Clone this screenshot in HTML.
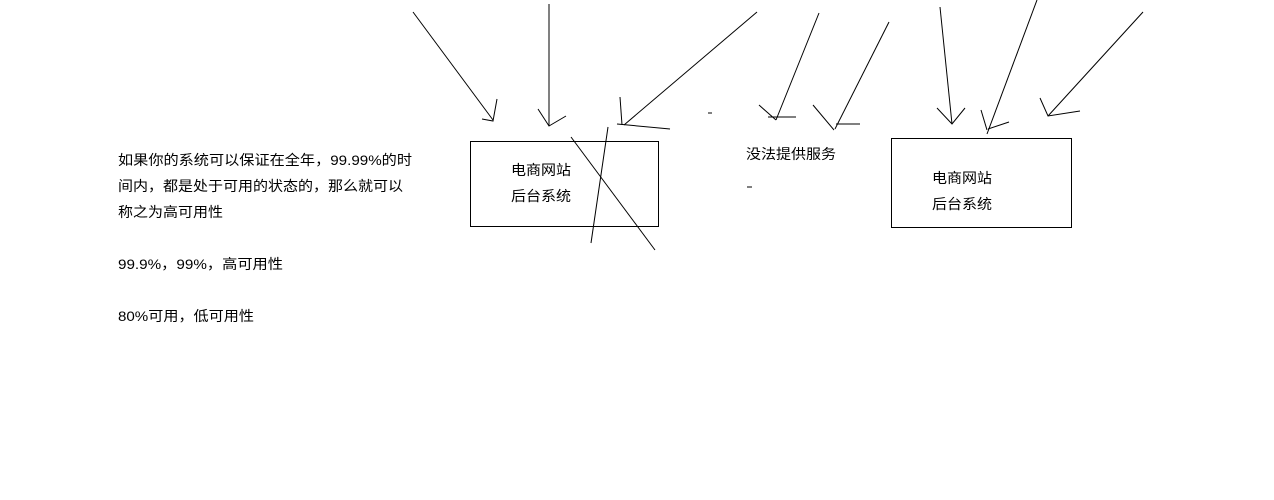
<!DOCTYPE html>
<html><head><meta charset="utf-8"><style>
html,body{margin:0;padding:0;background:#fff;}
svg{display:block;}
text{font-family:"Liberation Sans","Noto Sans CJK SC",sans-serif;font-size:14px;fill:#000;}
</style></head><body>
<svg width="1274" height="500" viewBox="0 0 1274 500" xmlns="http://www.w3.org/2000/svg">
<g stroke="#000" stroke-width="1" fill="none">
<rect x="470.5" y="141.5" width="188" height="85"/>
<rect x="891.5" y="138.5" width="180" height="89"/>
<line x1="413" y1="12" x2="493" y2="120"/>
<polyline points="497,99 493,121 482,119"/>
<line x1="549" y1="4" x2="549" y2="126"/>
<polyline points="538,109 549,126 566,116"/>
<line x1="757" y1="12" x2="624" y2="125"/>
<line x1="620" y1="97" x2="622" y2="125"/>
<line x1="617" y1="124" x2="670" y2="129"/>
<line x1="571" y1="137" x2="655" y2="250"/>
<line x1="608" y1="127" x2="591" y2="243"/>
<line x1="819" y1="13" x2="776" y2="120"/>
<line x1="759" y1="105" x2="776" y2="120"/>
<line x1="768" y1="117" x2="796" y2="117"/>
<line x1="889" y1="22" x2="835" y2="129"/>
<line x1="813" y1="105" x2="834" y2="130"/>
<line x1="836" y1="124" x2="860" y2="124"/>
<line x1="708" y1="113" x2="712" y2="113"/>
<line x1="747" y1="187" x2="752" y2="187"/>
<line x1="940" y1="7" x2="952" y2="124"/>
<polyline points="937,108 952,124 965,108"/>
<line x1="1037" y1="0" x2="987" y2="134"/>
<line x1="981" y1="110" x2="987" y2="130"/>
<line x1="988" y1="129" x2="1009" y2="122"/>
<line x1="1143" y1="12" x2="1048" y2="116"/>
<polyline points="1040,98 1048,116 1080,111"/>
</g>
<text x="118" y="165" textLength="294" lengthAdjust="spacingAndGlyphs">如果你的系统可以保证在全年，99.99%的时</text>
<text x="118" y="191" textLength="285" lengthAdjust="spacingAndGlyphs">间内，都是处于可用的状态的，那么就可以</text>
<text x="118" y="217" textLength="105" lengthAdjust="spacingAndGlyphs">称之为高可用性</text>
<text x="118" y="269" textLength="165" lengthAdjust="spacingAndGlyphs">99.9%，99%，高可用性</text>
<text x="118" y="321" textLength="136" lengthAdjust="spacingAndGlyphs">80%可用，低可用性</text>
<text x="511" y="175" textLength="60" lengthAdjust="spacingAndGlyphs">电商网站</text>
<text x="511" y="201" textLength="60" lengthAdjust="spacingAndGlyphs">后台系统</text>
<text x="746" y="159" textLength="90" lengthAdjust="spacingAndGlyphs">没法提供服务</text>
<text x="932" y="183" textLength="60" lengthAdjust="spacingAndGlyphs">电商网站</text>
<text x="932" y="209" textLength="60" lengthAdjust="spacingAndGlyphs">后台系统</text>
</svg>
</body></html>
